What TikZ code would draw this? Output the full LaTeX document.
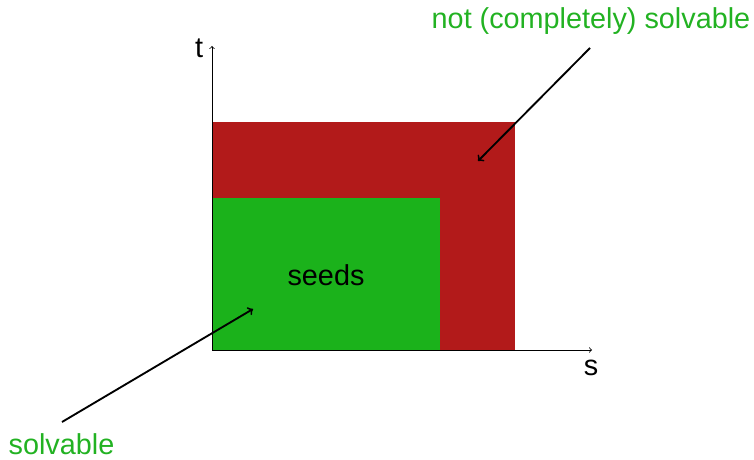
\documentclass[tikz,border=0pt]{standalone}
\usepackage{fontspec}
\setmainfont{Liberation Sans}
\definecolor{myred}{RGB}{178,26,26}
\definecolor{mygreen}{RGB}{27,178,27}
\definecolor{labgreen}{RGB}{34,178,34}
\begin{document}
\begin{tikzpicture}[x=0.75pt,y=-0.75pt,
  lab/.style={inner sep=0pt,font=\fontsize{21.6}{25}\selectfont},
  axis/.style={draw=black,line width=0.6pt,-to},
  pointer/.style={draw=black,line width=1.4pt,-to}]
\useasboundingbox (0,0) rectangle (754,460);
\fill[myred] (212,122) rectangle (515,350);
\fill[mygreen] (212,198) rectangle (440,350);
\coordinate (o) at (212,350);
\coordinate (tend) at (212,46);
\coordinate (send) at (592,350);
\draw[axis] (o) -- (tend);
\draw[axis] (o) -- (send);
\node[lab] (t) at (199,48) {t};
\node[lab] (s) at (591,368) {s};
\node[lab] (seeds) at (326,275) {seeds};
\node[lab,text=labgreen] (ncs) at (591,21) {not (completely) solvable};
\node[lab,text=labgreen] (sv) at (61.5,444.5) {solvable};
\coordinate (p1s) at (590,48);
\coordinate (p1e) at (478,161);
\coordinate (p2s) at (62,422);
\coordinate (p2e) at (253,309);
\draw[pointer] (p1s) -- (p1e);
\draw[pointer] (p2s) -- (p2e);
\end{tikzpicture}
\end{document}
